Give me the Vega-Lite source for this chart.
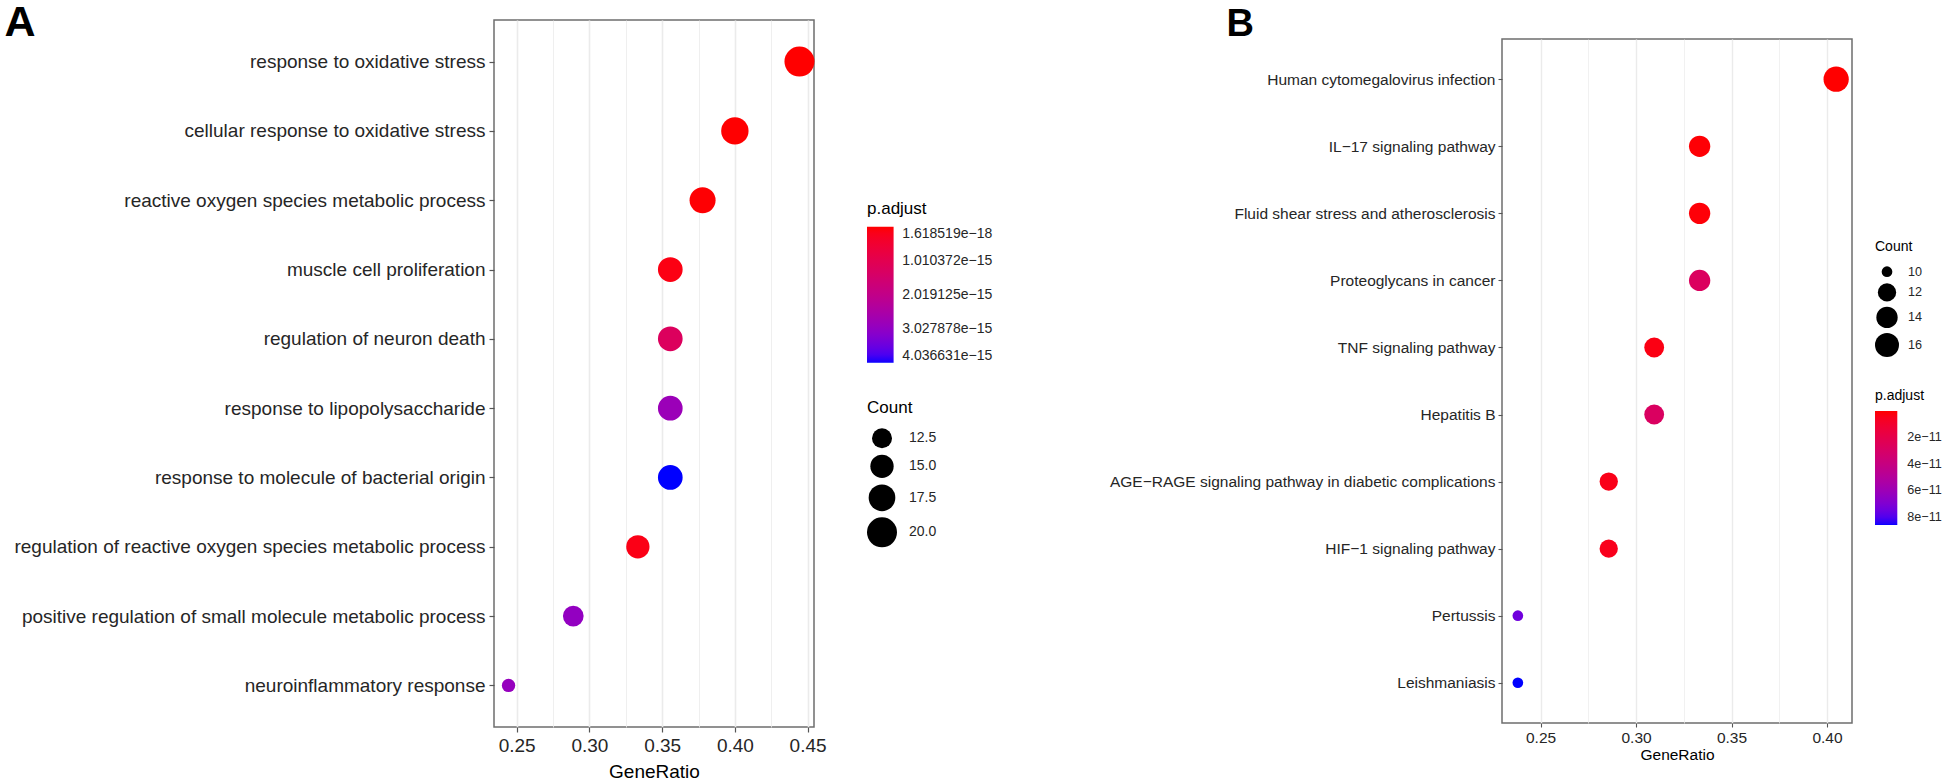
{
  "$schema": "https://vega.github.io/schema/vega-lite/v6.json",
  "padding": {"left": 3, "top": 0, "right": 0, "bottom": 0},
  "config": {
    "font": "Liberation Sans",
    "view": {"stroke": "#6e6e6e", "strokeWidth": 1.5},
    "legend": {"padding": 0, "titleFontWeight": "normal", "titleColor": "#000", "labelColor": "#262626"}
  },
  "spacing": 114,
  "hconcat": [
    {
      "width": 320,
      "height": 707,
      "data": {"values": [
        {"Description": "response to oxidative stress", "GeneRatio": 0.4444, "padj": 1.618519e-18, "Count": 20},
        {"Description": "cellular response to oxidative stress", "GeneRatio": 0.4, "padj": 5.2e-18, "Count": 18},
        {"Description": "reactive oxygen species metabolic process", "GeneRatio": 0.3778, "padj": 2.1e-17, "Count": 17},
        {"Description": "muscle cell proliferation", "GeneRatio": 0.3556, "padj": 1.3e-16, "Count": 16},
        {"Description": "regulation of neuron death", "GeneRatio": 0.3556, "padj": 1.25e-15, "Count": 16},
        {"Description": "response to lipopolysaccharide", "GeneRatio": 0.3556, "padj": 2.85e-15, "Count": 16},
        {"Description": "response to molecule of bacterial origin", "GeneRatio": 0.3556, "padj": 4.036631e-15, "Count": 16},
        {"Description": "regulation of reactive oxygen species metabolic process", "GeneRatio": 0.3333, "padj": 1.6e-16, "Count": 15},
        {"Description": "positive regulation of small molecule metabolic process", "GeneRatio": 0.2889, "padj": 3.0e-15, "Count": 13},
        {"Description": "neuroinflammatory response", "GeneRatio": 0.2444, "padj": 2.95e-15, "Count": 11}
      ]},
      "mark": {"type": "circle", "opacity": 1},
      "encoding": {
        "x": {
          "field": "GeneRatio", "type": "quantitative",
          "scale": {"domain": [0.2344, 0.4544], "nice": false, "zero": false},
          "axis": {
            "values": [0.25, 0.275, 0.3, 0.325, 0.35, 0.375, 0.4, 0.425, 0.45],
            "labelExpr": "abs(datum.value*20 - round(datum.value*20)) < 0.01 ? format(datum.value, '.2f') : ''",
            "labelOverlap": false, "labelFlush": false,
            "gridColor": "#EBEBEB",
            "gridWidth": {"condition": {"test": "abs(datum.value*20 - round(datum.value*20)) < 0.01", "value": 1.6}, "value": 0.8},
            "tickColor": {"condition": {"test": "abs(datum.value*20 - round(datum.value*20)) < 0.01", "value": "#555"}, "value": "transparent"},
            "tickSize": 5, "tickWidth": 1.2, "labelPadding": 4,
            "labelFontSize": 19, "labelColor": "#262626",
            "domain": false,
            "title": "GeneRatio", "titleFontSize": 19, "titleFontWeight": "normal", "titleColor": "#000", "titlePadding": 7
          }
        },
        "y": {
          "field": "Description", "type": "nominal", "sort": null,
          "scale": {"type": "point", "padding": 0.6},
          "axis": {
            "labelFontSize": 19, "labelColor": "#262626", "labelLimit": 700, "labelPadding": 4,
            "tickSize": 5, "tickWidth": 1.2, "tickColor": "#555",
            "gridColor": "#EBEBEB", "gridWidth": 1.6, "domain": false,
            "title": "A", "titleAngle": 0, "titleX": -490, "titleY": -19,
            "titleAlign": "left", "titleBaseline": "top", "titleFontSize": 43, "titleFontWeight": "bold", "titleColor": "#000"
          }
        },
        "color": {
          "field": "padj", "type": "quantitative", "title": "p.adjust",
          "scale": {"domain": [4.036631e-15, 1.618519e-18], "range": ["#0000FF", "#FF0000"], "interpolate": "lab"},
          "legend": {
            "orient": "none", "legendX": 373, "legendY": 181, "direction": "vertical",
            "values": [1.618519e-18, 1.010372e-15, 2.019125e-15, 3.027878e-15, 4.036631e-15],
            "labelExpr": "replace(format(datum.value, '.6e'), '-', '−')",
            "gradientLength": 136, "gradientThickness": 26.6, "gradientStrokeWidth": 0,
            "titleFontSize": 17, "labelFontSize": 14, "titlePadding": 8.7, "labelOffset": 8.7,
            "labelBaseline": "middle", "labelOverlap": false
          }
        },
        "size": {
          "field": "Count", "type": "quantitative",
          "scale": {"domain": [11, 12.5, 15, 17.5, 20], "range": [180, 400, 543, 711, 900]},
          "legend": {
            "orient": "none", "legendX": 373, "legendY": 380, "direction": "vertical",
            "values": [12.5, 15, 17.5, 20], "format": ".1f",
            "symbolFillColor": "#000", "symbolStrokeWidth": 0, "symbolOpacity": 1, "symbolType": "circle",
            "titleFontSize": 17, "labelFontSize": 14, "titlePadding": 11.3, "rowPadding": 6, "labelOffset": 12
          }
        }
      }
    },
    {
      "bounds": "flush",
      "spacing": 0,
      "vconcat": [
        {
          "width": 350,
          "height": 19,
          "view": {"stroke": null},
          "data": {"values": [{"v": 0}]},
          "mark": {"type": "point", "opacity": 0},
          "encoding": {
            "y": {
              "field": "v", "type": "quantitative",
              "axis": {
                "labels": false, "ticks": false, "grid": false, "domain": false,
                "title": "B", "titleAngle": 0, "titleX": -276, "titleY": -14.8,
                "titleAlign": "left", "titleBaseline": "top", "titleFontSize": 38, "titleFontWeight": "bold", "titleColor": "#000"
              }
            }
          }
        },
        {
          "width": 350,
          "height": 684,
          "data": {"values": [
            {"Description": "Human cytomegalovirus infection", "GeneRatio": 0.4048, "padj": 1e-13, "Count": 17},
            {"Description": "IL−17 signaling pathway", "GeneRatio": 0.3333, "padj": 8e-13, "Count": 14},
            {"Description": "Fluid shear stress and atherosclerosis", "GeneRatio": 0.3333, "padj": 1.2e-12, "Count": 14},
            {"Description": "Proteoglycans in cancer", "GeneRatio": 0.3333, "padj": 2.7e-11, "Count": 14},
            {"Description": "TNF signaling pathway", "GeneRatio": 0.3095, "padj": 3e-12, "Count": 13},
            {"Description": "Hepatitis B", "GeneRatio": 0.3095, "padj": 2.8e-11, "Count": 13},
            {"Description": "AGE−RAGE signaling pathway in diabetic complications", "GeneRatio": 0.2857, "padj": 4e-12, "Count": 12},
            {"Description": "HIF−1 signaling pathway", "GeneRatio": 0.2857, "padj": 5e-12, "Count": 12},
            {"Description": "Pertussis", "GeneRatio": 0.2381, "padj": 7.4e-11, "Count": 10},
            {"Description": "Leishmaniasis", "GeneRatio": 0.2381, "padj": 8.6e-11, "Count": 10}
          ]},
          "mark": {"type": "circle", "opacity": 1},
          "encoding": {
            "x": {
              "field": "GeneRatio", "type": "quantitative",
              "scale": {"domain": [0.2298, 0.4131], "nice": false, "zero": false},
              "axis": {
                "values": [0.25, 0.275, 0.3, 0.325, 0.35, 0.375, 0.4],
                "labelExpr": "abs(datum.value*20 - round(datum.value*20)) < 0.01 ? format(datum.value, '.2f') : ''",
                "labelOverlap": false, "labelFlush": false,
                "gridColor": "#EBEBEB",
                "gridWidth": {"condition": {"test": "abs(datum.value*20 - round(datum.value*20)) < 0.01", "value": 1.4}, "value": 0.7},
                "tickColor": {"condition": {"test": "abs(datum.value*20 - round(datum.value*20)) < 0.01", "value": "#555"}, "value": "transparent"},
                "tickSize": 4, "tickWidth": 1.1, "labelPadding": 3,
                "labelFontSize": 15.5, "labelColor": "#262626",
                "domain": false,
                "title": "GeneRatio", "titleFontSize": 15.5, "titleFontWeight": "normal", "titleColor": "#000", "titlePadding": 2
              }
            },
            "y": {
              "field": "Description", "type": "nominal", "sort": null,
              "scale": {"type": "point", "padding": 0.6},
              "axis": {
                "labelFontSize": 15.5, "labelColor": "#262626", "labelLimit": 700, "labelPadding": 3,
                "tickSize": 4, "tickWidth": 1.1, "tickColor": "#555",
                "gridColor": "#EBEBEB", "gridWidth": 1.4, "domain": false,
                "title": null
              }
            },
            "color": {
              "field": "padj", "type": "quantitative", "title": "p.adjust",
              "scale": {"domain": [8.6e-11, 1e-13], "range": ["#0000FF", "#FF0000"], "interpolate": "lab"},
              "legend": {
                "orient": "none", "legendX": 373, "legendY": 350.3, "direction": "vertical",
                "values": [2e-11, 4e-11, 6e-11, 8e-11],
                "labelExpr": "replace(format(datum.value, '.0e'), '-', '−')",
                "gradientLength": 114, "gradientThickness": 22.3, "gradientStrokeWidth": 0,
                "titleFontSize": 14, "labelFontSize": 12.6, "titlePadding": 7.7, "labelOffset": 10,
                "labelBaseline": "middle", "labelOverlap": false
              }
            },
            "size": {
              "field": "Count", "type": "quantitative",
              "scale": {"domain": [10, 12, 14, 16], "range": [114, 335, 454, 576]},
              "legend": {
                "orient": "none", "legendX": 373, "legendY": 201, "direction": "vertical",
                "values": [10, 12, 14, 16], "format": "d",
                "symbolFillColor": "#000", "symbolStrokeWidth": 0, "symbolOpacity": 1, "symbolType": "circle",
                "titleFontSize": 14, "labelFontSize": 12.6, "titlePadding": 11.4, "rowPadding": 4.5, "labelOffset": 9
              }
            }
          }
        }
      ],
      "resolve": {
        "scale": {"y": "independent", "x": "independent", "color": "independent", "size": "independent"},
        "legend": {"color": "independent", "size": "independent"}
      }
    }
  ],
  "resolve": {
    "scale": {"color": "independent", "size": "independent", "x": "independent", "y": "independent"},
    "legend": {"color": "independent", "size": "independent"}
  }
}
